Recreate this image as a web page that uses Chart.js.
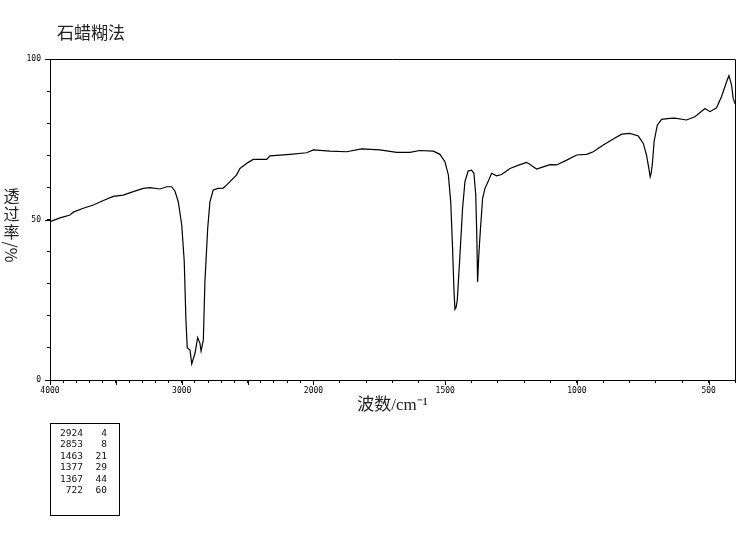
<!DOCTYPE html>
<html lang="zh">
<head>
<meta charset="utf-8">
<title>石蜡糊法</title>
<script src="https://cdn.jsdelivr.net/npm/chart.js"></script>
<style>
  html, body { margin: 0; padding: 0; background: #fff; }
  #wrap { position: relative; width: 746px; height: 539px; overflow: hidden; }
  #wrap canvas { position: absolute; left: 0; top: 0; }
  .title { position: absolute; left: 57px; top: 23px; font-size: 17px; font-family: "Noto Sans CJK SC"; line-height: 1; color: #222; }
  .ylabel { position: absolute; left: 3px; top: 186px; width: 17px; font-size: 16px; font-family: "Noto Sans CJK SC"; color: #222; }
  .ylabel span { display: block; text-align: center; line-height: 18px; white-space: nowrap; }
  .ylabel span.rot { transform: rotate(90deg); margin-top: 1px; }
  .peaks { position: absolute; left: 50px; top: 423px; width: 68px; height: 91px; border: 1px solid #000; }
  .peaks table { border-collapse: collapse; margin-top: 3px; font-size: 9.5px; font-family: "DejaVu Sans Mono"; color: #111; }
  .peaks td { padding: 0; text-align: right; height: 11.4px; line-height: 11.4px; }
  .peaks td.w { width: 32px; }
  .peaks td.t { width: 24px; }
</style>
</head>
<body>
<div id="wrap">
  <canvas id="ir" width="746" height="539"></canvas>
  <div class="title">石蜡糊法</div>
  <div class="ylabel"><span>透</span><span>过</span><span>率</span><span class="rot">/%</span></div>
  <div class="peaks"><table id="peakTable"></table></div>
</div>
<script>
// spectrum (cm-1 / %T)
const WAVENUMBER = [
  4000, 3924, 3848, 3823, 3747, 3671, 3595, 3520, 3444, 3368, 3292, 3241, 3165, 3114, 3076,
  3051, 3026, 3000, 2981, 2968, 2958, 2937, 2924, 2899, 2879, 2862, 2853, 2843, 2836, 2824,
  2803, 2786, 2761, 2723, 2685, 2660, 2583, 2558, 2495, 2457, 2355, 2330, 2178, 2052, 2001,
  1937, 1874, 1817, 1748, 1684, 1634, 1596, 1545, 1520, 1501, 1488, 1479, 1472, 1467, 1463,
  1459, 1454, 1444, 1434, 1425, 1413, 1400, 1391, 1384, 1380, 1377, 1373, 1369, 1366, 1358,
  1349, 1337, 1324, 1305, 1286, 1254, 1216, 1191, 1178, 1153, 1128, 1102, 1077, 1039, 1001,
  963, 938, 900, 862, 830, 799, 767, 748, 736, 727, 722, 718, 714, 707, 695,
  679, 647, 628, 584, 552, 514, 495, 470, 451, 432, 423, 413, 407, 400
];
const TRANSMITTANCE = [
  49.3, 50.5, 51.4, 52.3, 53.5, 54.5, 55.9, 57.2, 57.6, 58.7, 59.7, 59.9, 59.5, 60.2, 60.2,
  58.8, 55.5, 48.3, 37.0, 18.5, 10.0, 9.3, 5.0, 8.4, 13.2, 11.5, 9.0, 11.0, 12.5, 30.6,
  47.2, 55.5, 59.2, 59.7, 59.8, 60.7, 63.9, 65.9, 67.8, 68.7, 68.7, 69.8, 70.3, 70.8, 71.7,
  71.3, 71.1, 72.0, 71.7, 70.9, 70.9, 71.5, 71.3, 70.3, 68.0, 63.9, 55.5, 41.0, 28.6, 22.0,
  22.5, 25.0, 38.9, 53.5, 61.8, 65.1, 65.4, 64.4, 57.6, 45.0, 30.5, 38.0, 43.5, 47.2, 56.6,
  59.7, 61.8, 64.4, 63.6, 64.0, 65.9, 67.1, 67.8, 67.1, 65.7, 66.4, 67.1, 67.0, 68.5, 70.1,
  70.3, 71.1, 73.2, 75.1, 76.6, 76.8, 76.0, 73.7, 70.1, 65.9, 63.3, 64.5, 67.0, 74.3, 79.4,
  81.2, 81.5, 81.6, 81.0, 82.0, 84.6, 83.6, 84.8, 88.3, 92.9, 94.8, 91.9, 87.8, 86.0
];

// peak list in the box under the plot
const PEAK_WAVENUMBER = [2924, 2853, 1463, 1377, 1367, 722];
const PEAK_T = [4, 8, 21, 29, 44, 60];

// axis ticks
const X_LABELED = [4000, 3000, 2000, 1500, 1000, 500];
const X_MAJOR = [4000, 3500, 3000, 2500, 2000, 1500, 1000, 500];
const Y_LABELED = [0, 50, 100];
const X_MIN = 400, X_MAX = 4000;

const X_TICKS = [];
for (let v = X_MAX; v >= X_MIN; v -= 100) X_TICKS.push(v);

// 4000-2000 is drawn at half the scale of 2000-400
const BREAK = 2000;
function toUnits(w) {
    return w >= BREAK ? (X_MAX - w) / 2 : (X_MAX - BREAK) / 2 + (BREAK - w);
}
function fromUnits(u) {
    const b = (X_MAX - BREAK) / 2;
    return u <= b ? X_MAX - u * 2 : BREAK - (u - b);
}
const SPAN = toUnits(X_MIN);

class SplitScale extends Chart.LinearScale {
    buildTicks() {
        this.start = this.min;
        this.end = this.max;
        return X_TICKS.map(v => ({ value: v }));
    }
    getPixelForValue(v) {
        return v === null ? NaN : this.getPixelForDecimal(toUnits(v) / SPAN);
    }
    getValueForPixel(p) {
        return fromUnits(this.getDecimalForPixel(p) * SPAN);
    }
}
SplitScale.id = 'split';
SplitScale.defaults = Chart.LinearScale.defaults;
Chart.register(SplitScale);

// peak table
const table = document.getElementById('peakTable');
PEAK_WAVENUMBER.forEach((w, i) => {
    const tr = document.createElement('tr');
    tr.innerHTML = '<td class="w">' + w + '</td><td class="t">' + PEAK_T[i] + '</td>';
    table.appendChild(tr);
});

// box round the plot + longer major ticks
const frame = {
    id: 'frame',
    afterDraw(chart) {
        const { ctx, chartArea: a, scales } = chart;
        ctx.save();
        ctx.strokeStyle = '#000';
        ctx.lineWidth = 1;
        ctx.beginPath();
        const top = Math.round(a.top) + 0.5, right = Math.round(a.right) + 0.5;
        ctx.moveTo(a.left, top);
        ctx.lineTo(right, top);
        ctx.lineTo(right, a.bottom);
        X_MAJOR.forEach(v => {
            const px = Math.round(scales.x.getPixelForValue(v)) + 0.5;
            ctx.moveTo(px, a.bottom);
            ctx.lineTo(px, a.bottom + 5);
        });
        Y_LABELED.forEach(v => {
            const py = Math.round(scales.y.getPixelForValue(v)) + 0.5;
            ctx.moveTo(a.left - 5, py);
            ctx.lineTo(a.left, py);
        });
        ctx.stroke();
        ctx.restore();
    }
};

const tickFont = { family: 'DejaVu Sans Mono', size: 8 };

new Chart(document.getElementById('ir'), {
    type: 'line',
    data: {
        datasets: [{
            data: WAVENUMBER.map((w, i) => ({ x: w, y: TRANSMITTANCE[i] })),
            borderColor: '#000',
            borderWidth: 1.2,
            pointRadius: 0,
            tension: 0,
            fill: false
        }]
    },
    options: {
        responsive: false,
        animation: false,
        events: [],
        layout: { padding: { top: 59, right: 11, bottom: 119, left: 0 } },
        plugins: { legend: { display: false }, tooltip: { enabled: false } },
        scales: {
            x: {
                type: 'split',
                min: X_MIN,
                max: X_MAX,
                grid: { drawOnChartArea: false, tickLength: 3, color: '#000', tickColor: '#000' },
                border: { color: '#000', width: 1 },
                ticks: {
                    autoSkip: false,
                    maxRotation: 0,
                    padding: 3,
                    color: '#000',
                    font: tickFont,
                    callback: v => X_LABELED.includes(v) ? String(v) : ''
                },
                title: {
                    display: true,
                    text: '波数/cm⁻¹',
                    color: '#222',
                    font: { family: "'Liberation Serif', 'Noto Sans CJK SC'", size: 17 },
                    padding: { top: 4, bottom: 4 }
                },
                afterFit(scale) { scale.height = 40; }
            },
            y: {
                min: 0,
                max: 100,
                grid: { drawOnChartArea: false, tickLength: 3, color: '#000', tickColor: '#000' },
                border: { color: '#000', width: 1 },
                ticks: {
                    stepSize: 10,
                    autoSkip: false,
                    padding: 6,
                    color: '#000',
                    font: tickFont,
                    callback: v => Y_LABELED.includes(v) ? String(v) : ''
                },
                afterFit(scale) { scale.width = 50; }
            }
        }
    },
    plugins: [frame]
});
</script>
</body>
</html>
